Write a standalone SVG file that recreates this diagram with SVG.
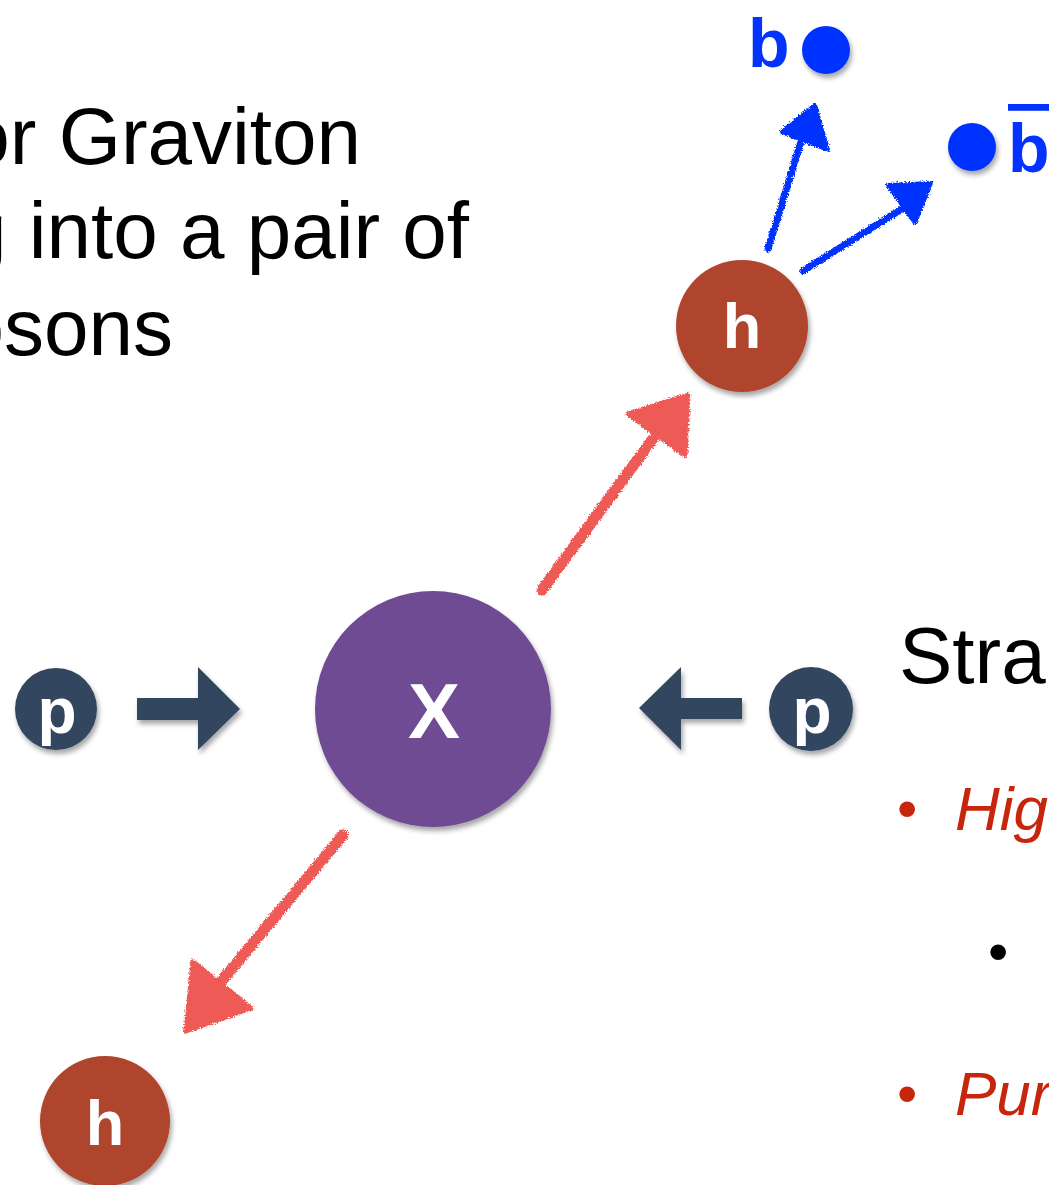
<svg xmlns="http://www.w3.org/2000/svg" width="1049" height="1185" viewBox="0 0 1049 1185">
  <defs>
    <filter id="shadow" x="-20%" y="-20%" width="150%" height="150%">
      <feDropShadow dx="2" dy="4" stdDeviation="2.5" flood-color="#000" flood-opacity="0.35"/>
    </filter>
    <filter id="rough" x="-10%" y="-10%" width="120%" height="120%">
      <feTurbulence type="fractalNoise" baseFrequency="0.7" numOctaves="2" seed="3" result="n"/>
      <feDisplacementMap in="SourceGraphic" in2="n" scale="5" xChannelSelector="R" yChannelSelector="G"/>
    </filter>
    <style>
      .title { font-family: "Liberation Sans", Arial, sans-serif; font-size: 80px; fill: #000; }
      .bul { font-family: "Liberation Sans", Arial, sans-serif; font-size: 62px; font-style: italic; fill: #c8260c; }
      .dot { font-family: "Liberation Sans", Arial, sans-serif; font-size: 58px; }
      .lbl { font-family: "Liberation Sans", Arial, sans-serif; font-weight: bold; fill: #fff; text-anchor: middle; }
      .blue { font-family: "Liberation Sans", Arial, sans-serif; font-weight: bold; font-size: 68px; fill: #0433ff; }
      .proton { fill: #30465f; }
      .higgs { fill: #b0442f; }
      .red { stroke: #ee5a54; fill: #ee5a54; stroke-linecap: round; stroke-linejoin: round; }
      .bl { stroke: #0433ff; fill: #0433ff; stroke-linecap: round; stroke-linejoin: round; }
    </style>
  </defs>
  <rect width="1049" height="1185" fill="#fff"/>

  <g id="title">
    <text class="title" x="361" y="164" text-anchor="end">or Graviton</text>
    <text class="title" x="469" y="258" text-anchor="end">g into a pair of</text>
    <text class="title" x="173" y="355" text-anchor="end">osons</text>
  </g>

  <g id="strategy">
    <text class="title" x="899" y="683">Stra</text>
    <text class="dot" x="897" y="828" fill="#c8260c">•</text>
    <text class="bul" x="955" y="830">Hig</text>
    <text class="dot" x="988" y="971" fill="#000">•</text>
    <text class="dot" x="897" y="1113" fill="#c8260c">•</text>
    <text class="bul" x="955" y="1115">Pur</text>
  </g>

  <g id="connectors">
    <g id="arrow-p-left" filter="url(#shadow)">
      <path class="proton" d="M137,698 H198 V667 L240,709 L198,750 V720 H137 Z"/>
    </g>
    <g id="arrow-p-right" filter="url(#shadow)">
      <path class="proton" d="M742,698 H681 V667 L639,708 L681,750 V719 H742 Z"/>
    </g>
    <g id="arrow-x-h-top" filter="url(#rough)">
      <line class="red" x1="542" y1="590" x2="652" y2="440" stroke-width="11"/>
      <polygon class="red" points="628,414 688,395 685,455" stroke-width="5"/>
    </g>
    <g id="arrow-x-h-bottom" filter="url(#rough)">
      <line class="red" x1="343" y1="835" x2="210" y2="995" stroke-width="11"/>
      <polygon class="red" points="193,962 186,1031 251,1008" stroke-width="5"/>
    </g>
    <g id="arrow-h-b" filter="url(#rough)">
      <line class="bl" x1="768" y1="249" x2="803" y2="135" stroke-width="7"/>
      <polygon class="bl" points="781,132 815,105 828,150" stroke-width="4"/>
    </g>
    <g id="arrow-h-bbar" filter="url(#rough)">
      <line class="bl" x1="803" y1="271" x2="905" y2="207" stroke-width="7"/>
      <polygon class="bl" points="888,185 931,183 915,223" stroke-width="4"/>
    </g>
  </g>

  <g id="node-p-left" filter="url(#shadow)">
    <circle class="proton" cx="56" cy="709" r="41"/>
    <text class="lbl" x="57" y="733" font-size="64">p</text>
  </g>

  <g id="node-x" filter="url(#shadow)">
    <circle cx="433" cy="709" r="118" fill="#6e4b92"/>
    <text class="lbl" x="434" y="738" font-size="78">X</text>
  </g>

  <g id="node-p-right" filter="url(#shadow)">
    <circle class="proton" cx="811" cy="709" r="42"/>
    <text class="lbl" x="812" y="733" font-size="64">p</text>
  </g>

  <g id="node-h-top" filter="url(#shadow)">
    <circle class="higgs" cx="742" cy="326" r="66"/>
    <text class="lbl" x="742" y="348" font-size="63">h</text>
  </g>

  <g id="node-h-bottom" filter="url(#shadow)">
    <circle class="higgs" cx="105" cy="1121" r="65"/>
    <text class="lbl" x="105" y="1145" font-size="63">h</text>
  </g>

  <g id="node-b">
    <text class="blue" x="748" y="67">b</text>
    <circle cx="826" cy="50" r="24" fill="#0433ff" filter="url(#shadow)"/>
  </g>

  <g id="node-bbar">
    <circle cx="972" cy="147" r="24" fill="#0433ff" filter="url(#shadow)"/>
    <text class="blue" x="1008" y="172" text-decoration="overline">b</text>
  </g>
</svg>
